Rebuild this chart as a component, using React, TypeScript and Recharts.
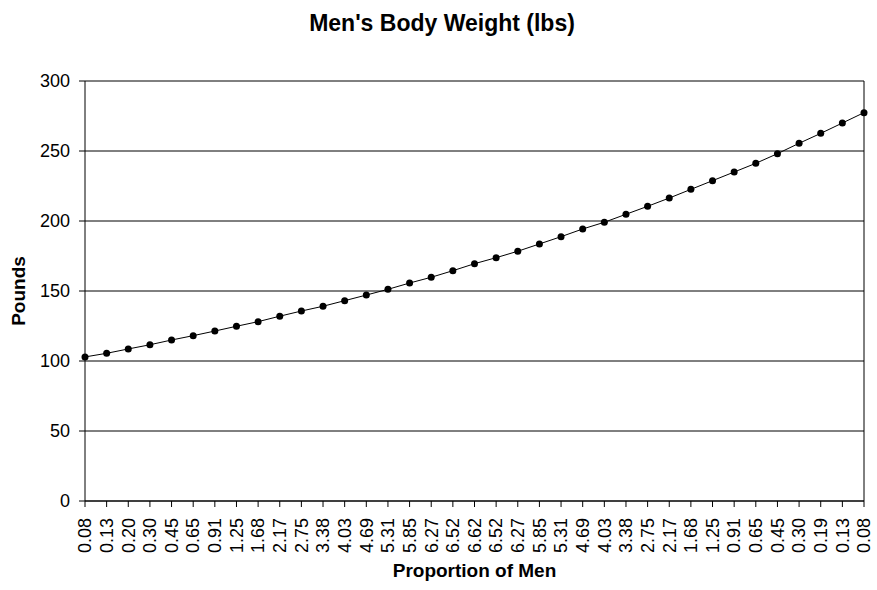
import React from 'react';
import { LineChart, Line, XAxis, YAxis, CartesianGrid, ReferenceLine, Label } from 'recharts';

const categories: string[] = [
  '0.08', '0.13', '0.20', '0.30', '0.45', '0.65', '0.91', '1.25', '1.68', '2.17',
  '2.75', '3.38', '4.03', '4.69', '5.31', '5.85', '6.27', '6.52', '6.62', '6.52',
  '6.27', '5.85', '5.31', '4.69', '4.03', '3.38', '2.75', '2.17', '1.68', '1.25',
  '0.91', '0.65', '0.45', '0.30', '0.19', '0.13', '0.08',
];

const pounds: number[] = [
  102.9, 105.5, 108.6, 111.6, 115.0, 118.1, 121.4, 124.8, 128.1, 132.0,
  135.7, 139.1, 143.1, 147.1, 151.2, 155.7, 159.8, 164.5, 169.5, 173.8,
  178.4, 183.6, 188.8, 194.3, 199.1, 204.8, 210.5, 216.4, 222.6, 228.8,
  235.0, 241.2, 248.1, 255.5, 262.6, 270.0, 277.4,
];

const yTicks: number[] = [0, 50, 100, 150, 200, 250, 300];

const title = "Men's Body Weight (lbs)";
const xTitle = 'Proportion of Men';
const yTitle = 'Pounds';

const data = categories.map((c, i) => ({ i, label: c, value: pounds[i] }));

const FONT = '"Liberation Sans", Arial, sans-serif';

const XTick = (props: any) => {
  const { x, y, payload } = props;
  const ty = y + 9;
  return (
    <text
      x={x}
      y={ty}
      transform={`rotate(-90, ${x}, ${ty})`}
      textAnchor="end"
      dy="0.35em"
      fontSize={18}
      fontFamily={FONT}
      fill="#000"
    >
      {categories[payload.value]}
    </text>
  );
};

const YTitle = (props: any) => {
  const vb = props.viewBox || {};
  const x = vb.x + 25;
  const y = vb.y + vb.height / 2;
  return (
    <text
      x={x}
      y={y}
      transform={`rotate(-90, ${x}, ${y})`}
      textAnchor="middle"
      fontSize={19}
      fontWeight="bold"
      fontFamily={FONT}
      fill="#000"
    >
      {yTitle}
    </text>
  );
};

const XTitle = (props: any) => {
  const vb = props.viewBox || {};
  const x = vb.x + vb.width / 2;
  const y = vb.y + 76;
  return (
    <text x={x} y={y} textAnchor="middle" fontSize={19} fontWeight="bold" fontFamily={FONT} fill="#000">
      {xTitle}
    </text>
  );
};

export default function App() {
  return (
    <div style={{ position: 'absolute', left: 0, top: 0, width: 877, height: 590, background: '#fff' }}>
      <div
        style={{
          position: 'absolute',
          left: 0,
          top: 12,
          width: 884,
          textAlign: 'center',
          fontFamily: FONT,
          fontWeight: 'bold',
          fontSize: 23,
          lineHeight: '23px',
          color: '#000',
        }}
      >
        {title}
      </div>
      <LineChart
        width={877}
        height={590}
        data={data}
        margin={{ top: 81, right: 13, bottom: 0, left: 0 }}
      >
        <CartesianGrid vertical={false} stroke="#000" strokeWidth={1} />
        <XAxis
          dataKey="i"
          type="category"
          interval={0}
          height={89}
          tickSize={6}
          tickLine={{ stroke: '#000' }}
          axisLine={{ stroke: '#000' }}
          tick={<XTick />}
        >
          <Label content={<XTitle />} />
        </XAxis>
        <YAxis
          domain={[0, 300]}
          ticks={yTicks}
          width={85}
          tickSize={6}
          tickMargin={9}
          interval={0}
          tickLine={{ stroke: '#000' }}
          axisLine={{ stroke: '#000' }}
          tick={{ fill: '#000', fontSize: 18, fontFamily: FONT }}
        >
          <Label content={<YTitle />} />
        </YAxis>
        <ReferenceLine x={categories.length - 1} stroke="#000" strokeWidth={1} />
        <Line
          type="linear"
          dataKey="value"
          stroke="#000"
          strokeWidth={1}
          dot={{ r: 3.5, fill: '#000', stroke: '#000', strokeWidth: 0 }}
          isAnimationActive={false}
        />
      </LineChart>
    </div>
  );
}
